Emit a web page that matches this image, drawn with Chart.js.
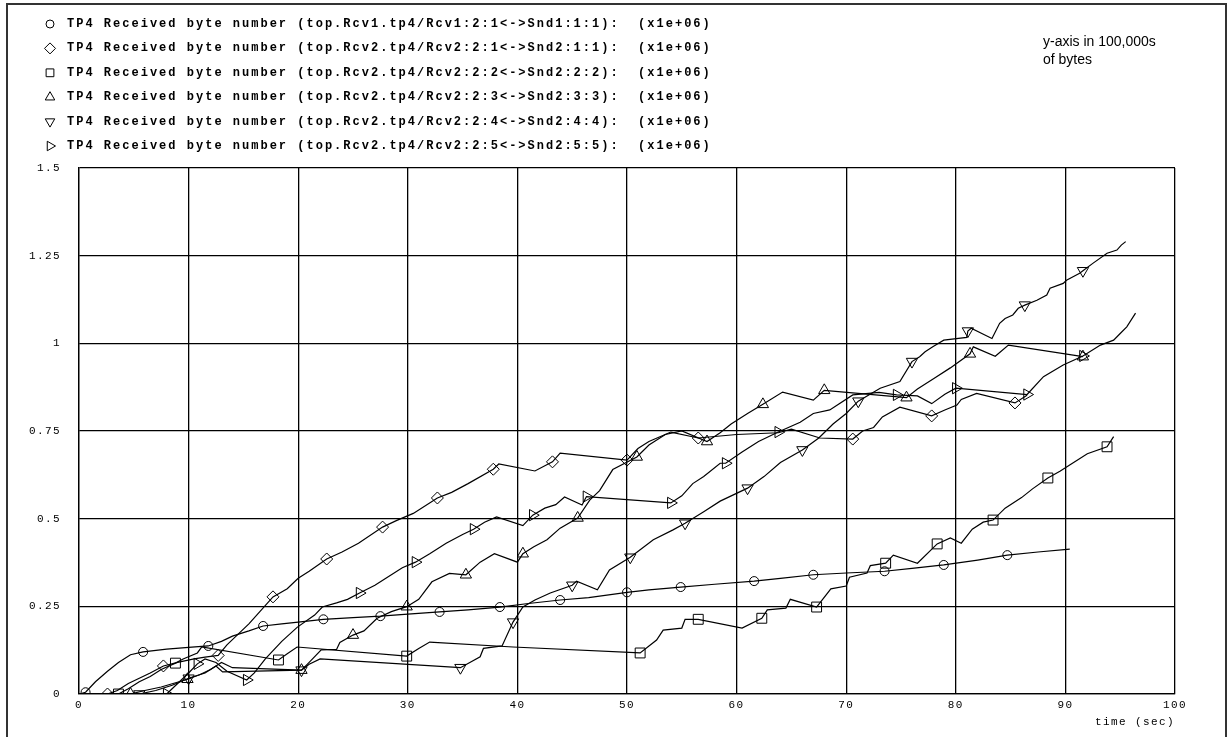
<!DOCTYPE html>
<html>
<head>
<meta charset="utf-8">
<script src="https://cdn.jsdelivr.net/npm/chart.js@4.4.1/dist/chart.umd.min.js"></script>
<style>
  html, body { margin: 0; padding: 0; background: #fff; }
  #wrap { position: relative; width: 1231px; height: 737px; }
  canvas { display: block; }
</style>
</head>
<body>
<div id="wrap"><canvas id="c" width="1231" height="737"></canvas></div>
<script>
// Received byte counts (x1e+06) per TP4 connection over simulated time (sec)
const xTicks = [0, 10, 20, 30, 40, 50, 60, 70, 80, 90, 100];
const yTicks = [0, 0.25, 0.5, 0.75, 1, 1.25, 1.5];

const legendNames = [
  'TP4 Received byte number (top.Rcv1.tp4/Rcv1:2:1<->Snd1:1:1):  (x1e+06)',
  'TP4 Received byte number (top.Rcv2.tp4/Rcv2:2:1<->Snd2:1:1):  (x1e+06)',
  'TP4 Received byte number (top.Rcv2.tp4/Rcv2:2:2<->Snd2:2:2):  (x1e+06)',
  'TP4 Received byte number (top.Rcv2.tp4/Rcv2:2:3<->Snd2:3:3):  (x1e+06)',
  'TP4 Received byte number (top.Rcv2.tp4/Rcv2:2:4<->Snd2:4:4):  (x1e+06)',
  'TP4 Received byte number (top.Rcv2.tp4/Rcv2:2:5<->Snd2:5:5):  (x1e+06)'
];

// Rcv1 2:1 <-> Snd1 1:1
const rcv1Time  = [0,0.6,1.5,2.6,3.6,4.7,5.85,8,10,11.8,13,14,15.5,16.8,18.5,20,22.3,25,27.5,30,32.9,35.5,38.4,41,43.9,46.5,50,52,54.9,58,61.6,64,67,70,73.5,76,78.9,82,84.7,87.5,90.4];
const rcv1Bytes = [0,0.005,0.035,0.065,0.09,0.112,0.12,0.128,0.133,0.137,0.15,0.165,0.18,0.194,0.2,0.205,0.213,0.218,0.222,0.228,0.234,0.24,0.248,0.258,0.268,0.275,0.29,0.297,0.305,0.313,0.322,0.33,0.34,0.345,0.35,0.358,0.368,0.382,0.396,0.405,0.413];
const rcv1Marks = [0.6,5.85,11.8,16.8,22.3,27.5,32.9,38.4,43.9,50,54.9,61.6,67,73.5,78.9,84.7];

// Rcv2 2:1 <-> Snd2 1:1
const conn1Time  = [2.6,3.5,4.5,5.5,6.5,7.7,9,10.5,11.5,12.7,13.5,14.5,15.5,16.5,17.7,19,20,21,22.6,24,25.5,27.7,29,30.5,32.7,34,35.5,37.8,38.3,41.6,43.2,43.9,50,51,52,54,56.5,60,63.8,65,67.6,70.6,71.5,72.5,73.3,74.9,77.8,79,80.1,80.5,81.9,85.4,86.5];
const conn1Bytes = [0,0.01,0.03,0.045,0.06,0.08,0.09,0.1,0.105,0.11,0.14,0.17,0.2,0.235,0.277,0.3,0.33,0.35,0.385,0.405,0.43,0.476,0.495,0.515,0.559,0.575,0.6,0.641,0.656,0.636,0.662,0.687,0.667,0.7,0.72,0.747,0.73,0.74,0.745,0.755,0.73,0.727,0.75,0.76,0.79,0.818,0.793,0.81,0.824,0.84,0.857,0.83,0.852];
const conn1Marks = [2.6,7.7,12.7,17.7,22.6,27.7,32.7,37.8,43.2,50,56.5,70.6,77.8,85.4];

// Rcv2 2:2 <-> Snd2 2:2
const conn2Time  = [3.6,4.5,5.5,6.5,7.5,8.8,9.5,10.8,11.2,18.2,19,19.9,29.9,31,32,39.6,51.2,52.7,53.3,55,55.3,56.5,60.5,62.3,62.8,64.5,64.9,67.3,68.6,70,70.3,71.9,72.2,73.6,74.3,76.5,78.3,79.5,80.5,81.5,82.5,83.4,84.5,86,87,88.4,89.5,90.5,92,93.8,94.4];
const conn2Bytes = [0,0.015,0.035,0.05,0.07,0.088,0.1,0.117,0.134,0.097,0.115,0.134,0.108,0.13,0.148,0.134,0.117,0.154,0.182,0.188,0.213,0.213,0.188,0.216,0.24,0.245,0.27,0.248,0.3,0.308,0.333,0.345,0.366,0.373,0.396,0.373,0.428,0.445,0.43,0.47,0.49,0.496,0.53,0.56,0.585,0.616,0.635,0.655,0.685,0.705,0.734];
const conn2Marks = [3.6,8.8,18.2,29.9,51.2,56.5,62.3,67.3,73.6,78.3,83.4,88.4,93.8];

// Rcv2 2:3 <-> Snd2 3:3
const conn3Time  = [4.7,6,7.5,9.9,11,12,13,14,20.3,21,22.1,23.5,23.8,25,26,27.2,28.5,29.9,31,32.2,33.8,35.3,36.6,37.9,40,40.5,41.5,42.7,43.9,45.5,46.6,47.5,48.7,50.9,52,53.5,55,57.3,58.5,59.5,61,62.4,64.2,67,68,75.5,76.5,78,79.5,81.3,81.6,83.6,84.8,91.6];
const conn3Bytes = [0,0.01,0.02,0.042,0.055,0.07,0.09,0.075,0.068,0.09,0.126,0.127,0.147,0.168,0.18,0.216,0.235,0.249,0.27,0.32,0.344,0.34,0.376,0.4,0.376,0.4,0.42,0.44,0.473,0.502,0.553,0.58,0.64,0.676,0.71,0.74,0.75,0.72,0.745,0.77,0.8,0.826,0.861,0.838,0.866,0.845,0.87,0.9,0.93,0.97,0.99,0.963,0.995,0.962];
const conn3Marks = [4.7,9.9,20.3,25,29.9,35.3,40.5,45.5,50.9,57.3,62.4,68,75.5,81.3,91.6];

// Rcv2 2:4 <-> Snd2 4:4
const conn4Time  = [5.5,7,8.5,10,11.5,12.5,13.1,20.3,21,22,34.8,36.6,36.9,38.6,39.6,40.5,41.6,43,45,45.4,47.3,48.4,50.3,52.4,54.2,55.3,57,58.5,61,62.5,64,66,67.5,68.8,70,71.1,73.1,74.9,76,76.7,77.2,77.9,78.9,81,81.1,81.4,83.3,84,84.5,85.2,85.7,86.3,87.4,88.3,88.6,89.8,90.1,91.3,91.6,92.5,93.8,94.7,95.1,95.5];
const conn4Bytes = [0,0.01,0.025,0.045,0.06,0.08,0.063,0.068,0.085,0.1,0.075,0.106,0.13,0.137,0.205,0.248,0.268,0.288,0.31,0.322,0.297,0.354,0.39,0.44,0.468,0.487,0.52,0.55,0.587,0.62,0.66,0.696,0.73,0.77,0.8,0.835,0.872,0.891,0.948,0.962,0.976,0.99,1.009,1.017,1.035,1.043,1.014,1.057,1.071,1.081,1.1,1.109,1.123,1.138,1.157,1.171,1.18,1.2,1.207,1.228,1.257,1.266,1.28,1.29];
const conn4Marks = [5.5,10,20.3,34.8,39.6,45,50.3,55.3,61,66,71.1,76,81.1,86.3,91.6];

// Rcv2 2:5 <-> Snd2 5:5
const conn5Time  = [8,9,10,10.8,11.5,12.5,13.5,15.3,16,17,18.5,19.9,21.5,22.2,23.5,24.5,25.6,27,28,29.5,30.7,32,33.5,35,36,37,38.1,40.5,41.4,42.5,43.5,44.3,45.9,46.3,54,55,56,57,58.5,59,60.5,62,63.8,65.8,67,68.5,70.6,73,74.6,76.5,77.8,79,80,86.5,88,89.8,91.6,93.2,94.4,95,95.6,96.4];
const conn5Bytes = [0,0.03,0.06,0.086,0.1,0.09,0.065,0.04,0.06,0.1,0.15,0.19,0.225,0.248,0.26,0.27,0.288,0.31,0.33,0.36,0.376,0.4,0.43,0.455,0.47,0.49,0.505,0.48,0.51,0.53,0.54,0.562,0.539,0.563,0.545,0.565,0.6,0.62,0.658,0.658,0.69,0.72,0.747,0.775,0.8,0.81,0.853,0.86,0.853,0.85,0.828,0.855,0.872,0.854,0.905,0.938,0.964,0.995,1.009,1.028,1.047,1.086];
const conn5Marks = [8,10.8,15.3,25.6,30.7,36,41.4,46.3,54,59,63.8,74.6,80,86.5,91.6];

const series = [
  { t: rcv1Time,  v: rcv1Bytes,  m: rcv1Marks,  style: 'circle',   rot: 0,   r: 4.5 },
  { t: conn1Time, v: conn1Bytes, m: conn1Marks, style: 'rectRot',  rot: 0,   r: 6 },
  { t: conn2Time, v: conn2Bytes, m: conn2Marks, style: 'rect',     rot: 0,   r: 7 },
  { t: conn3Time, v: conn3Bytes, m: conn3Marks, style: 'triangle', rot: 0,   r: 6.5 },
  { t: conn4Time, v: conn4Bytes, m: conn4Marks, style: 'triangle', rot: 180, r: 6.5 },
  { t: conn5Time, v: conn5Bytes, m: conn5Marks, style: 'triangle', rot: 90,  r: 6.5 }
];

const datasets = series.map((s, k) => ({
  label: legendNames[k],
  data: s.t.map((t, i) => ({ x: t, y: s.v[i] })),
  borderColor: '#000',
  borderWidth: 1.2,
  tension: 0,
  fill: false,
  pointStyle: s.style,
  pointRotation: s.rot,
  pointRadius: s.t.map(t => (s.m.includes(t) ? s.r : 0)),
  pointHoverRadius: 0,
  pointBorderColor: '#000',
  pointBackgroundColor: 'rgba(255,255,255,0)',
  pointBorderWidth: 1
}));

const MONO = '"Liberation Mono", "DejaVu Sans Mono", monospace';

// hollow legend marker, same shapes as the plotted points
function legendMark(ctx, style, rot, r, x, y) {
  ctx.save();
  ctx.translate(x, y);
  ctx.rotate(rot * Math.PI / 180);
  ctx.beginPath();
  if (style === 'circle') {
    ctx.arc(0, 0, r, 0, Math.PI * 2);
  } else if (style === 'rectRot') {
    ctx.moveTo(0, -r); ctx.lineTo(r, 0); ctx.lineTo(0, r); ctx.lineTo(-r, 0); ctx.closePath();
  } else if (style === 'rect') {
    const h = r * Math.SQRT1_2;
    ctx.rect(-h, -h, 2 * h, 2 * h);
  } else {
    const a = Math.PI / 6;
    ctx.moveTo(0, -r);
    ctx.lineTo(r * Math.cos(a), r * Math.sin(a));
    ctx.lineTo(-r * Math.cos(a), r * Math.sin(a));
    ctx.closePath();
  }
  ctx.strokeStyle = '#000';
  ctx.lineWidth = 1;
  ctx.stroke();
  ctx.restore();
}

const decor = {
  id: 'decor',
  beforeDraw(chart) {
    const ctx = chart.ctx;
    ctx.save();
    ctx.fillStyle = '#fff';
    ctx.fillRect(0, 0, chart.width, chart.height);
    ctx.restore();
    ctx.letterSpacing = '1.4px';
  },
  afterDraw(chart) {
    const ctx = chart.ctx;
    ctx.save();
    ctx.letterSpacing = '0px';
    // outer frame
    ctx.strokeStyle = '#333';
    ctx.lineWidth = 2;
    ctx.strokeRect(7, 4, 1219, 745);

    // legend block
    const markX = 50, textX = 67, textW = 645;
    ctx.font = 'bold 12px ' + MONO;
    ctx.fillStyle = '#000';
    ctx.textBaseline = 'middle';
    ctx.textAlign = 'left';
    legendNames.forEach((name, i) => {
      const y = 24 + i * 24.4;
      const s = series[i];
      legendMark(ctx, s.style, s.rot, s.style === 'circle' ? 4 : 5.5, markX, y);
      ctx.letterSpacing = '0px';
      const w = ctx.measureText(name).width;
      ctx.letterSpacing = ((textW - w) / name.length).toFixed(2) + 'px';
      ctx.fillText(name, textX, y);
    });

    // unit note
    ctx.letterSpacing = '0px';
    ctx.font = '14px "Liberation Sans", Arial, sans-serif';
    ctx.fillText('y-axis in 100,000s', 1043, 42);
    ctx.fillText('of bytes', 1043, 60);
    ctx.restore();
  }
};

new Chart(document.getElementById('c'), {
  type: 'line',
  data: { datasets },
  plugins: [decor],
  options: {
    responsive: false,
    animation: false,
    devicePixelRatio: 1,
    events: [],
    layout: { padding: { top: 168, right: 56, left: 0, bottom: 0 } },
    plugins: { legend: { display: false }, tooltip: { enabled: false } },
    scales: {
      x: {
        type: 'linear', min: 0, max: 100,
        afterBuildTicks: s => { s.ticks = xTicks.map(v => ({ value: v })); },
        afterFit: s => { s.height = 43; },
        ticks: { color: '#000', padding: 4, maxRotation: 0, font: { family: MONO, size: 11 },
                 callback: v => String(v) },
        grid: { color: '#000', lineWidth: 1.3, drawTicks: false },
        border: { color: '#000', width: 1.3 },
        title: { display: true, text: 'time (sec)', align: 'end', color: '#000',
                 font: { family: MONO, size: 11 }, padding: { top: 0, bottom: 8 } }
      },
      y: {
        type: 'linear', min: 0, max: 1.5,
        afterBuildTicks: s => { s.ticks = yTicks.map(v => ({ value: v })); },
        afterFit: s => { s.width = 79; },
        ticks: { color: '#000', padding: 18, font: { family: MONO, size: 11 },
                 callback: v => String(v) },
        grid: { color: '#000', lineWidth: 1.3, drawTicks: false },
        border: { color: '#000', width: 1.3 }
      }
    }
  }
});
</script>
</body>
</html>
